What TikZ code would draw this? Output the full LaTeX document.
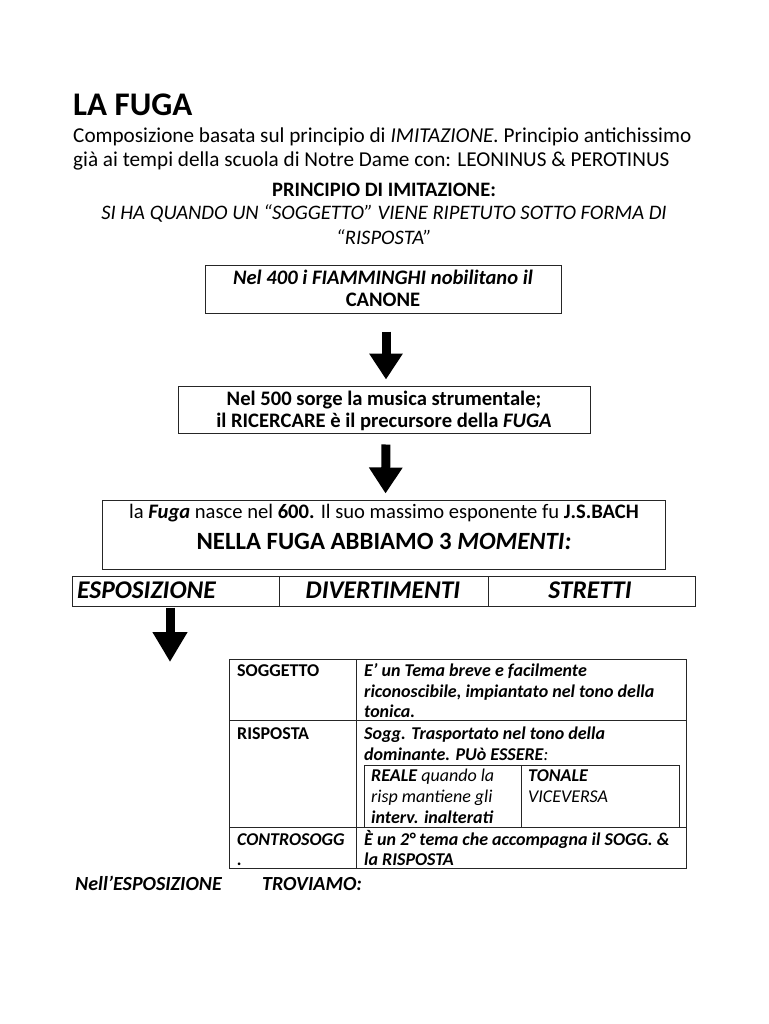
\documentclass[tikz,border=0pt]{standalone}
\usepackage{fontspec}
\setmainfont{Carlito}
\usetikzlibrary{arrows.meta}
\begin{document}
\begin{tikzpicture}[x=1pt,y=-1pt,
  txt/.style={anchor=base west, inner sep=0pt},
  ctxt/.style={anchor=base, inner sep=0pt},
  box/.style={draw=black!85, line width=1pt, inner sep=0pt},
  bigarrow/.style={line width=9pt, -{Triangle[width=32pt,length=26pt]}},
  body/.style={font=\fontsize{21.2}{24}\selectfont},
  boxfont/.style={font=\fontsize{20.6}{22}\selectfont\bfseries},
  tab/.style={font=\fontsize{18}{20}\selectfont\bfseries\itshape},
  tabit/.style={font=\fontsize{18}{20}\selectfont\itshape},
  tabup/.style={font=\fontsize{18}{20}\selectfont\bfseries},
  cellfont/.style={font=\fontsize{25.5}{26}\selectfont\bfseries\itshape},
]
\useasboundingbox (0,0) rectangle (768,1024);
\fill[white] (0,0) rectangle (768,1024);

% heading
\node[txt, font=\fontsize{33}{36}\selectfont\bfseries] (title) at (73,116) {LA FUGA};
\node[txt, body] (l1) at (73,143) {Composizione basata sul principio di \textit{IMITAZIONE.} Principio antichissimo};
\node[txt, body] (l2) at (73,167) {già ai tempi della scuola di Notre Dame con: LEONINUS \& PEROTINUS};
\node[ctxt, font=\fontsize{20.5}{22}\selectfont\bfseries] (pr) at (384,197) {PRINCIPIO DI IMITAZIONE:};
\node[ctxt, font=\fontsize{20.6}{22}\selectfont\itshape] (pr1) at (384,220) {SI HA QUANDO UN “SOGGETTO” VIENE RIPETUTO SOTTO FORMA DI};
\node[ctxt, font=\fontsize{20.6}{22}\selectfont\itshape] (pr2) at (384,244) {“RISPOSTA”};

% box 1
\node[box, minimum width=356pt, minimum height=48pt] (box1) at (383,289) {};
\node[ctxt, boxfont] (b1a) at (383,284) {\textit{Nel 400 i FIAMMINGHI nobilitano il}};
\node[ctxt, boxfont] (b1b) at (383,306) {CANONE};

% box 2
\node[box, minimum width=412pt, minimum height=47pt] (box2) at (384,409.5) {};
\node[ctxt, boxfont] (b2a) at (384,405) {Nel 500 sorge la musica strumentale;};
\node[ctxt, boxfont] (b2b) at (384,427) {il RICERCARE è il precursore della \textit{FUGA}};

% box 3
\node[box, minimum width=563pt, minimum height=69pt] (box3) at (383.5,534.5) {};
\node[ctxt, font=\fontsize{20.6}{22}\selectfont] (b3a) at (384,518) {la \textbf{\textit{Fuga}} nasce nel \textbf{600.} Il suo massimo esponente fu \textbf{J.S.BACH}};
\node[ctxt, font=\fontsize{24.8}{26}\selectfont\bfseries] (b3b) at (384,549) {NELLA FUGA ABBIAMO 3 \textit{MOMENTI:}};

% arrows
\draw[bigarrow, shorten <=18pt, shorten >=6pt] ([xshift=3pt]box1.south) -- ([xshift=2pt]box2.north);
\draw[bigarrow, shorten <=11pt, shorten >=6pt] ([xshift=2pt]box2.south) -- ([xshift=2pt]box3.north);

% three moments
\node[box, minimum width=207pt, minimum height=30pt] (espo) at (175.5,591) {};
\node[box, minimum width=209pt, minimum height=30pt] (div) at (383.5,591) {};
\node[box, minimum width=207pt, minimum height=30pt] (str) at (591.5,591) {};
\node[txt, cellfont] (espot) at (77,598) {ESPOSIZIONE};
\node[ctxt, cellfont] (divt) at (383,598) {DIVERTIMENTI};
\node[ctxt, cellfont] (strt) at (590,598) {STRETTI};

\coordinate (a3end) at (170,662);
\draw[bigarrow, shorten <=1pt, -{Triangle[width=33pt,length=30pt]}] (espo.south -| a3end) -- (a3end);

% table
\draw[black!85, line width=1pt] (229,659) rectangle (686,868);
\draw[black!85, line width=1pt] (356,659) -- (356,868);
\draw[black!85, line width=1pt] (229,720) -- (686,720);
\draw[black!85, line width=1pt] (229,827) -- (686,827);
\draw[black!85, line width=1pt] (364,765) rectangle (679,827);
\draw[black!85, line width=1pt] (521,765) -- (521,827);

\node[txt, tabup] (t1) at (237,676) {SOGGETTO};
\node[txt, tab] (t1a) at (364,676) {E’ un Tema breve e facilmente};
\node[txt, tab] (t1b) at (364,697) {riconoscibile, impiantato nel tono della};
\node[txt, tab] (t1c) at (364,717) {tonica.};

\node[txt, tabup] (t2) at (237,739) {RISPOSTA};
\node[txt, tab] (t2a) at (364,739) {Sogg. Trasportato nel tono della};
\node[txt, tab] (t2b) at (364,760) {dominante. PUò ESSERE\textmd{:}};

\node[txt, tab] (r1) at (371,781) {REALE \textmd{quando la}};
\node[txt, tabit] (r2) at (371,802) {risp mantiene gli};
\node[txt, tab] (r3) at (371,823) {interv. inalterati};
\node[txt, tab] (s1) at (528,781) {TONALE};
\node[txt, tabit] (s2) at (528,802) {VICEVERSA};

\node[txt, tab] (t3) at (237,845) {CONTROSOGG};
\node[txt, tab] (t3b) at (237,865) {.};
\node[txt, tab] (t3a) at (364,845) {È un 2° tema che accompagna il SOGG. \&};
\node[txt, tab] (t3c) at (364,865) {la RISPOSTA};

\node[txt, font=\fontsize{20}{22}\selectfont\bfseries\itshape] (ne) at (75,890) {Nell’ESPOSIZIONE};
\node[txt, font=\fontsize{20}{22}\selectfont\bfseries\itshape] (tr) at (262,890) {TROVIAMO:};
\end{tikzpicture}
\end{document}
